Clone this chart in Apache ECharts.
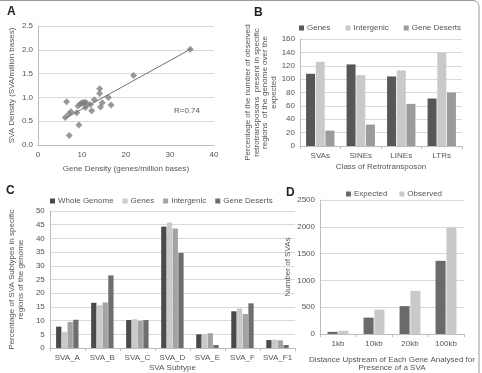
<!DOCTYPE html>
<html>
<head>
<meta charset="utf-8">
<script src="https://cdn.jsdelivr.net/npm/echarts@6/dist/echarts.min.js"></script>
<style>
  html, body { margin: 0; padding: 0; background: #fff; }
  #main { width: 482px; height: 373px; }
</style>
</head>
<body>
<div id="main"></div>
<script>
// Panel A: gene density vs SVA density
var scatterPoints = [
  [34.6, 2.01], [21.7, 1.46], [14.0, 1.18], [14.0, 1.08], [16.0, 1.0],
  [16.6, 0.84], [14.6, 0.89], [14.2, 0.80], [12.8, 0.95], [11.9, 0.85],
  [12.2, 0.72], [10.8, 0.79], [10.6, 0.90], [10.0, 0.89], [9.6, 0.86],
  [9.1, 0.82], [8.8, 0.68], [9.3, 0.42], [6.5, 0.91], [7.5, 0.70],
  [7.0, 0.65], [7.1, 0.20], [6.2, 0.58], [10.3, 0.88], [11.0, 0.89]
];
var trendLine = [[6.2, 0.56], [34.8, 2.02]];

// Panel B
var classes = ['SVAs', 'SINEs', 'LINEs', 'LTRs'];
var bGenes = [108, 122, 104, 71];
var bIntergenic = [126, 106, 113, 140];
var bDeserts = [23, 32, 63, 80];

// Panel C
var subtypes = ['SVA_A', 'SVA_B', 'SVA_C', 'SVA_D', 'SVA_E', 'SVA_F', 'SVA_F1'];
var cWhole = [7.8, 16.5, 10.2, 44.3, 5.0, 13.4, 2.9];
var cGenes = [5.9, 15.6, 10.5, 45.8, 5.0, 14.4, 3.0];
var cIntergenic = [9.5, 16.6, 9.9, 43.6, 5.4, 12.4, 2.8];
var cDeserts = [10.3, 26.5, 10.2, 34.7, 1.1, 16.3, 1.1];

// Panel D
var distances = ['1kb', '10kb', '20kb', '100kb'];
var dExpected = [40, 305, 520, 1365];
var dObserved = [60, 455, 805, 1985];

var chart = echarts.init(document.getElementById('main'));

var txt = '#555';
var font = 'Liberation Sans, Arial, sans-serif';
var gridLine = { lineStyle: { color: '#d9d9d9', width: 1 } };
var axLine = { lineStyle: { color: '#bdbdbd' } };

function valAxis(idx, opts) {
  return Object.assign({
    type: 'value', gridIndex: idx,
    axisLine: Object.assign({ show: true }, axLine),
    axisTick: { show: false },
    splitLine: gridLine,
    axisLabel: { color: txt, fontSize: 8, fontFamily: font, margin: 5,
      formatter: function (v) { return String(v); } },
    nameLocation: 'middle', nameRotate: 90,
    nameTextStyle: { color: txt, fontSize: 8, fontFamily: font, lineHeight: 8.5 }
  }, opts);
}
function catAxis(idx, data, opts) {
  return Object.assign({
    type: 'category', gridIndex: idx, data: data,
    axisLine: axLine,
    axisTick: { show: true, length: 3, lineStyle: { color: '#bdbdbd' } },
    axisLabel: { color: txt, fontSize: 8, fontFamily: font, margin: 6, interval: 0 },
    nameLocation: 'middle',
    nameTextStyle: { color: txt, fontSize: 8, fontFamily: font, lineHeight: 8 }
  }, opts);
}
// the C legend reuses names with a trailing space, trimmed for display
function legendAt(data, left, top, gap) {
  return {
    data: data, left: left, top: top, itemGap: gap,
    itemWidth: 5, itemHeight: 5, icon: 'rect',
    formatter: function (n) { return n.trim(); },
    textStyle: { color: txt, fontSize: 8, fontFamily: font, padding: [0, 0, 0, -2] }
  };
}
function bar(name, data, color, x, y, cg) {
  return {
    type: 'bar', name: name, data: data, xAxisIndex: x, yAxisIndex: y,
    itemStyle: { color: color }, barGap: '8%', barCategoryGap: cg
  };
}

chart.setOption({
  animation: false,
  grid: [
    { left: 38, top: 26, width: 176, height: 119 },
    { left: 300, top: 39, width: 162, height: 107 },
    { left: 42, top: 211, width: 253, height: 139 },
    { left: 320, top: 200, width: 144, height: 140 }
  ],
  legend: [
    legendAt(['Genes', 'Intergenic', 'Gene Deserts'], 294, 19, 15),
    legendAt(['Whole Genome', 'Genes ', 'Intergenic ', 'Gene Deserts '], 45, 192, 9),
    legendAt(['Expected', 'Observed'], 341, 185, 12)
  ],
  xAxis: [
    valAxis(0, { min: 0, max: 40, interval: 10, splitLine: { show: false },
      nameRotate: 0, name: 'Gene Density (genes/million bases)', nameGap: 20,
      axisLabel: { color: txt, fontSize: 8, fontFamily: font, margin: 6 } }),
    catAxis(1, classes, { name: 'Class of Retrotransposon', nameGap: 17 }),
    catAxis(2, subtypes, { name: 'SVA Subtype', nameGap: 16 }),
    catAxis(3, distances, { name: 'Distance Upstream of Each Gene Analysed for\nPresence of a SVA', nameGap: 22 })
  ],
  yAxis: [
    valAxis(0, { min: 0, max: 2.5, interval: 0.5, name: 'SVA Density (SVA/million bases)', nameGap: 22,
      axisLabel: { color: txt, fontSize: 8, fontFamily: font, margin: 5,
        formatter: function (v) { return v.toFixed(1); } } }),
    valAxis(1, { min: 0, max: 160, interval: 20, nameGap: 22,
      name: 'Percentage of the number of observed\nretrotransposons  present in specific\nregions  of the genome over the\nexpected' }),
    valAxis(2, { min: 0, max: 50, interval: 5, nameGap: 20,
      name: 'Percentage of SVA Subtypes in specific\nregions of the genome' }),
    valAxis(3, { min: 0, max: 2500, interval: 500, nameGap: 28, name: 'Number of SVAs' })
  ],
  series: [
    {
      type: 'scatter', data: scatterPoints, xAxisIndex: 0, yAxisIndex: 0,
      symbol: 'diamond', symbolSize: 7, itemStyle: { color: '#7f7f7f' }
    },
    {
      type: 'line', data: trendLine, xAxisIndex: 0, yAxisIndex: 0,
      symbol: 'none', lineStyle: { color: '#707070', width: 1 }
    },
    bar('Genes', bGenes, '#575759', 1, 1, '30%'),
    bar('Intergenic', bIntergenic, '#c9c9c9', 1, 1, '30%'),
    bar('Gene Deserts', bDeserts, '#9b9b9b', 1, 1, '30%'),
    bar('Whole Genome', cWhole, '#4a4a4c', 2, 2, '36%'),
    bar('Genes ', cGenes, '#cacaca', 2, 2, '36%'),
    bar('Intergenic ', cIntergenic, '#a3a3a3', 2, 2, '36%'),
    bar('Gene Deserts ', cDeserts, '#6e6e70', 2, 2, '36%'),
    bar('Expected', dExpected, '#6a6a6c', 3, 3, '42%'),
    bar('Observed', dObserved, '#c9c9c9', 3, 3, '42%')
  ],
  graphic: [
    { type: 'rect', shape: { x: -6, y: 0.5, width: 485, height: 390, r: 6 },
      style: { fill: 'none', stroke: '#9a9a9a', lineWidth: 1 } },
    { type: 'text', left: 7, top: 6, style: { text: 'A', fontSize: 12, fontWeight: 'bold', fontFamily: font, fill: '#222' } },
    { type: 'text', left: 254, top: 7, style: { text: 'B', fontSize: 12, fontWeight: 'bold', fontFamily: font, fill: '#222' } },
    { type: 'text', left: 6, top: 185, style: { text: 'C', fontSize: 12, fontWeight: 'bold', fontFamily: font, fill: '#222' } },
    { type: 'text', left: 286, top: 187, style: { text: 'D', fontSize: 12, fontWeight: 'bold', fontFamily: font, fill: '#222' } },
    { type: 'text', left: 174, top: 107, style: { text: 'R=0.74', fontSize: 8, fontFamily: font, fill: txt } }
  ]
});

window.addEventListener('resize', function () {
  chart.resize();
});
</script>
</body>
</html>
